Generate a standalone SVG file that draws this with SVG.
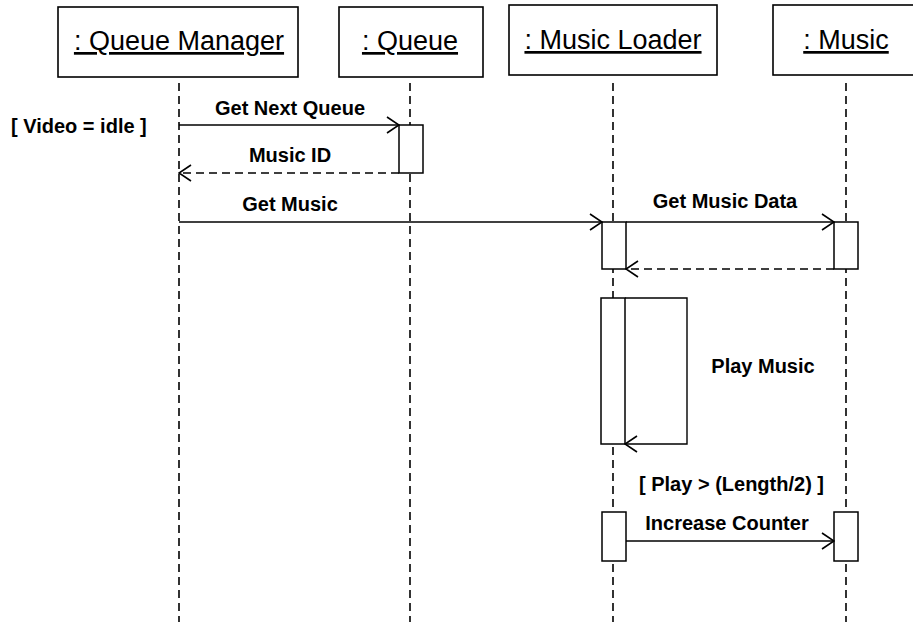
<svg xmlns="http://www.w3.org/2000/svg" width="913" height="622" viewBox="0 0 913 622">
<style>
.box{fill:#fff;stroke:#000;stroke-width:1.6}
.act{fill:#fff;stroke:#000;stroke-width:1.5}
.life{stroke:#000;stroke-width:1.6;stroke-dasharray:8 5;fill:none}
.msg{stroke:#000;stroke-width:1.4;fill:none}
.ret{stroke:#000;stroke-width:1.5;fill:none;stroke-dasharray:8 5}
.hdr{font-family:"Liberation Sans",Arial,sans-serif;font-size:27px;text-anchor:middle;text-decoration:underline}
.lbl{font-family:"Liberation Sans",Arial,sans-serif;font-size:20px;font-weight:bold;text-anchor:middle}
.grd{font-family:"Liberation Sans",Arial,sans-serif;font-size:20px;font-weight:bold}
</style>
<defs>
<marker id="open" viewBox="0 0 14 18" refX="13" refY="9" markerWidth="14" markerHeight="18" markerUnits="userSpaceOnUse" orient="auto">
<path d="M1,1 L13,9 L1,17" fill="none" stroke="#000" stroke-width="1.6"/>
</marker>
</defs>
<rect width="913" height="622" fill="#fff"/>
<g id="lifelines">
<line class="life" x1="179" y1="83" x2="179" y2="622"/>
<line class="life" x1="410" y1="83" x2="410" y2="622"/>
<line class="life" x1="613" y1="83" x2="613" y2="622"/>
<line class="life" x1="846" y1="83" x2="846" y2="622"/>
</g>
<g id="queue-manager">
<rect class="box" x="58" y="7" width="240" height="70"/>
<text class="hdr" x="179" y="50">: Queue Manager</text>
</g>
<g id="queue">
<rect class="box" x="339" y="7" width="144" height="70"/>
<text class="hdr" x="410" y="50">: Queue</text>
</g>
<g id="music-loader">
<rect class="box" x="509" y="5" width="208" height="70"/>
<text class="hdr" x="613" y="49">: Music Loader</text>
</g>
<g id="music">
<rect class="box" x="773" y="5" width="150" height="70"/>
<text class="hdr" x="846" y="49">: Music</text>
</g>
<g id="activations">
<rect class="act" x="399" y="125" width="24" height="48"/>
<rect class="act" x="602" y="222" width="24" height="47"/>
<rect class="act" x="834" y="222" width="24" height="47"/>
<rect class="act" x="601" y="298" width="24" height="146"/>
<rect class="act" x="602" y="512" width="24" height="49"/>
<rect class="act" x="834" y="512" width="24" height="49"/>
</g>
<g id="connectors">
<path class="msg" d="M179,125 H399" marker-end="url(#open)"/>
<path class="ret" d="M399,173 H179" marker-end="url(#open)"/>
<path class="msg" d="M179,222 H602" marker-end="url(#open)"/>
<path class="msg" d="M626,222 H834" marker-end="url(#open)"/>
<path class="ret" d="M834,269 H626" marker-end="url(#open)"/>
<path class="msg" d="M625,298 H687 V444 H625" marker-end="url(#open)"/>
<path class="msg" d="M626,541 H834" marker-end="url(#open)"/>
</g>
<g id="labels">
<text class="grd" x="11" y="133">[ Video = idle ]</text>
<text class="lbl" x="290" y="115">Get Next Queue</text>
<text class="lbl" x="290" y="162">Music ID</text>
<text class="lbl" x="290" y="211">Get Music</text>
<text class="lbl" x="725" y="208">Get Music Data</text>
<text class="lbl" x="763" y="373">Play Music</text>
<text class="grd" x="639" y="491">[ Play &gt; (Length/2) ]</text>
<text class="lbl" x="727" y="530">Increase Counter</text>
</g>
</svg>
